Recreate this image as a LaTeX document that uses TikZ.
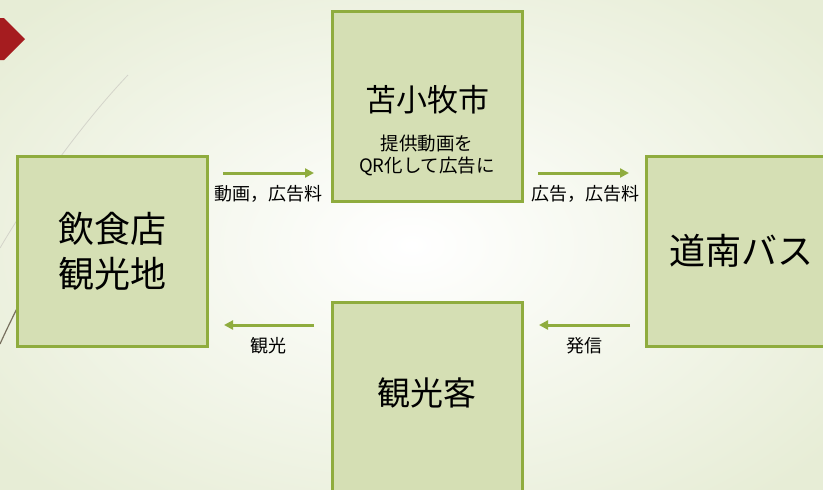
\documentclass[tikz,border=0pt]{standalone}
\usepackage{fontspec}
\setmainfont{Noto Sans CJK JP}
\usetikzlibrary{arrows.meta}
\definecolor{boxfill}{RGB}{213,223,180}
\definecolor{boxline}{RGB}{143,172,62}
\definecolor{bgedge}{RGB}{231,237,214}
\definecolor{markred}{RGB}{165,28,31}
\definecolor{wisp}{RGB}{212,212,202}
\definecolor{wispdark}{RGB}{120,112,95}

\begin{document}
\begin{tikzpicture}[x=1pt,y=-1pt,
	box/.style={draw=boxline, fill=boxfill, line width=3pt, minimum width=190pt, minimum height=190pt, inner sep=0pt, align=center},
	flow/.style={draw=boxline, line width=3pt, -{Triangle[length=9pt,width=9pt]}},
	lbl/.style={font=\fontsize{18}{20}\selectfont, inner sep=0pt}]
	\useasboundingbox (0,0) rectangle (823,490);
	\clip (0,0) rectangle (823,490);
	% background
	\shade[inner color=white, outer color=bgedge] (-120,-90) rectangle (943,580);
	\draw[wisp, line width=0.8pt] (128,75) .. controls (90,115) and (40,180) .. (0,248);
	\draw[wispdark, line width=1.2pt] (60,230) .. controls (40,265) and (20,300) .. (0,344);
	\fill[markred] (0,18) -- (4,18) -- (25,39) -- (4,60) -- (0,60) -- cycle;
	% boxes
	\node[box, font=\fontsize{36}{45}\selectfont] (shop) at (112.5,251) {飲食店\\観光地};
	\node[box] (city) at (427,106) {};
	\node[font=\fontsize{31}{36}\selectfont] (citytitle) at (427,100) {苫小牧市};
	\node[font=\fontsize{18.5}{22}\selectfont, align=center] (citytxt) at (427,155) {提供動画を\\QR化して広告に};
	\node[box, font=\fontsize{36}{45}\selectfont] (bus) at (741.5,251) {道南バス};
	\node[box] (guest) at (427,397.5) {};
	\node[font=\fontsize{33}{40}\selectfont] (guesttxt) at (427,393) {観光客};
	% arrows
	\coordinate (s1) at (223,173);
	\coordinate (e1) at (314,173);
	\coordinate (s2) at (538,173);
	\coordinate (e2) at (629,173);
	\coordinate (s3) at (314,325);
	\coordinate (e3) at (224,325);
	\coordinate (s4) at (630,325);
	\coordinate (e4) at (539,325);
	\draw[flow] (s1) -- (e1);
	\draw[flow] (s2) -- (e2);
	\draw[flow] (s3) -- (e3);
	\draw[flow] (s4) -- (e4);
	\node[lbl] (l1) at (268,194) {動画，広告料};
	\node[lbl] (l2) at (585,194) {広告，広告料};
	\node[lbl] (l3) at (268,346) {観光};
	\node[lbl] (l4) at (584,346) {発信};
\end{tikzpicture}
\end{document}
